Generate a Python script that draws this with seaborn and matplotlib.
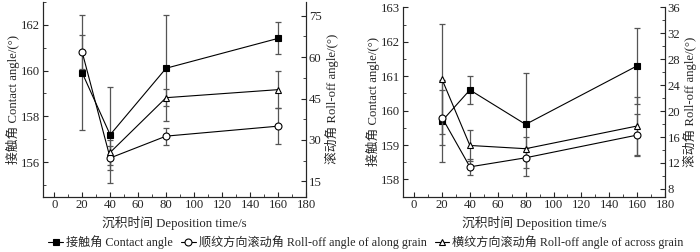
import numpy as np
import pandas as pd
import matplotlib
matplotlib.use("Agg")
import matplotlib.pyplot as plt
from matplotlib.lines import Line2D
from matplotlib.ticker import MultipleLocator
import seaborn as sns

# deposition time (s)
times = [20, 40, 80, 160]

# panel (a)
ca_a = [159.9, 157.2, 160.1, 161.4]
ca_a_err = [2.5, 2.1, 2.3, 0.7]
along_a = [61.8, 23.5, 31.4, 35.0]
along_a_err = [6.3, 4.2, 3.1, 6.6]
across_a = [np.nan, 25.5, 45.3, 48.2]
across_a_err = [np.nan, 4.5, 3.0, 6.6]

# panel (b)
ca_b = [159.7, 160.6, 159.6, 161.3]
ca_b_err = [1.2, 0.4, 1.5, 1.1]
along_b = [19.0, 11.4, 12.8, 16.3]
along_b_err = [4.3, 1.2, 1.5, 3.3]
across_b = [24.9, 14.7, 14.2, 17.7]
across_b_err = [8.5, 2.4, 1.8, 4.5]

xlabel = "沉积时间 Deposition time/s"
ylabel_left = "接触角 Contact angle/(°)"
ylabel_right = "滚动角 Roll-off angle/(°)"
legend_labels = ["接触角 Contact angle",
                 "顺纹方向滚动角 Roll-off angle of along grain",
                 "横纹方向滚动角 Roll-off angle of across grain"]

sns.set_style("ticks")
plt.rcParams['font.family'] = ['Liberation Serif', 'Noto Sans CJK SC']
plt.rcParams['font.size'] = 9
plt.rcParams['axes.unicode_minus'] = False

FS = 9.2

styles = {
    "ca": dict(marker="s", markerfacecolor="black", markeredgecolor="black"),
    "along": dict(marker="o", markerfacecolor="white", markeredgecolor="black"),
    "across": dict(marker="^", markerfacecolor="white", markeredgecolor="black"),
}


def draw_series(ax, y, err, key):
    df = pd.DataFrame({"t": times, "v": y, "e": err}).dropna()
    ax.errorbar(df["t"], df["v"], yerr=df["e"], fmt="none", ecolor="#555555",
                elinewidth=0.9, capsize=2.5, capthick=0.9, zorder=1)
    sns.lineplot(data=df, x="t", y="v", ax=ax, color="black", linewidth=0.8,
                 markersize=5, markeredgewidth=0.8, zorder=3, **styles[key])


def style_axis(ax, twin):
    for a in (ax, twin):
        a.spines["top"].set_visible(False)
        a.tick_params(axis="both", which="major", direction="in", length=3.5,
                      width=0.8, labelsize=FS, pad=2)
        a.tick_params(axis="both", which="minor", direction="in", length=2,
                      width=0.6)
        a.set_xlabel("")
    ax.set_xlim(-8, 180)
    ax.xaxis.set_major_locator(MultipleLocator(20))
    ax.xaxis.set_minor_locator(MultipleLocator(10))
    ax.set_xlabel(xlabel, fontsize=FS, labelpad=3)
    ax.set_ylabel(ylabel_left, fontsize=FS, labelpad=1)
    twin.set_ylabel(ylabel_right, fontsize=FS, labelpad=2)


fig = plt.figure(figsize=(7.0, 2.52), dpi=100)
H = 252.0

# panel (a)
ax1 = fig.add_axes([43 / 700, (H - 196.7) / H, 263 / 700, 195 / H])
tw1 = ax1.twinx()
draw_series(ax1, ca_a, ca_a_err, "ca")
draw_series(tw1, along_a, along_a_err, "along")
draw_series(tw1, across_a, across_a_err, "across")
ax1.set_ylim(154.5, 163)
ax1.yaxis.set_major_locator(MultipleLocator(2))
ax1.yaxis.set_minor_locator(MultipleLocator(1))
tw1.set_ylim(9.5, 80)
tw1.yaxis.set_major_locator(MultipleLocator(15))
tw1.yaxis.set_minor_locator(MultipleLocator(7.5))
style_axis(ax1, tw1)

# panel (b)
ax2 = fig.add_axes([403 / 700, (H - 196.7) / H, 262 / 700, 189.4 / H])
tw2 = ax2.twinx()
draw_series(ax2, ca_b, ca_b_err, "ca")
draw_series(tw2, along_b, along_b_err, "along")
draw_series(tw2, across_b, across_b_err, "across")
ax2.set_ylim(157.5, 163)
ax2.yaxis.set_major_locator(MultipleLocator(1))
ax2.yaxis.set_minor_locator(MultipleLocator(0.5))
tw2.set_ylim(6.8, 36)
tw2.yaxis.set_major_locator(MultipleLocator(4))
tw2.yaxis.set_minor_locator(MultipleLocator(2))
style_axis(ax2, tw2)

handles = [Line2D([], [], color="black", linewidth=0.8, markersize=5,
                  markeredgewidth=0.8, **styles[k]) for k in ("ca", "along", "across")]
fig.legend(handles, legend_labels, loc="center", bbox_to_anchor=(0.523, 10 / H),
           ncol=3, frameon=False, fontsize=8.7, handlelength=1.2,
           handletextpad=0.25, columnspacing=0.7)

fig.savefig("out.png", dpi=100)
